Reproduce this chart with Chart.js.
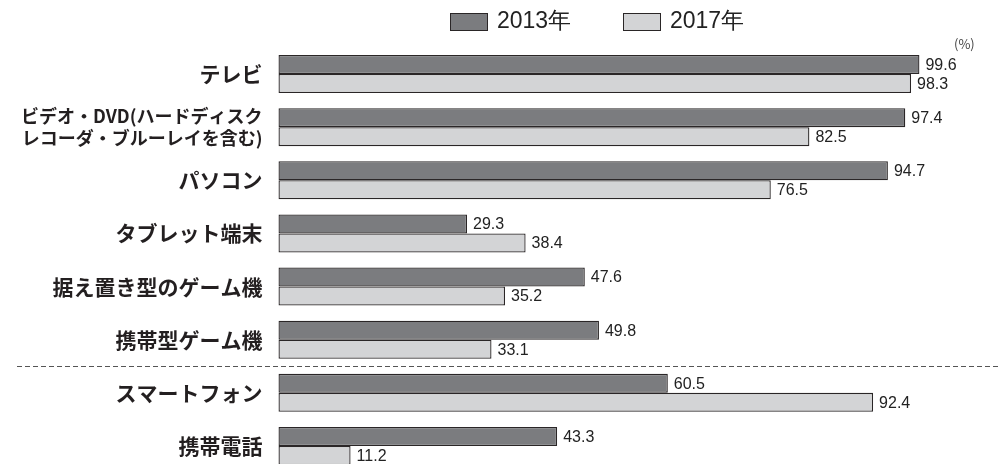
<!DOCTYPE html>
<html>
<head>
<meta charset="utf-8">
<script src="https://cdn.jsdelivr.net/npm/chart.js@4.4.1/dist/chart.umd.min.js"></script>
<style>
  html, body { margin: 0; padding: 0; background: #fff; }
  #wrap { width: 998px; height: 464px; position: relative; }
</style>
</head>
<body>
<div id="wrap"><canvas id="chart"></canvas></div>
<script>
// categories (multi-line label for the video recorder row)
const categories = [
    'テレビ',
    ['ビデオ・DVD(ハードディスク', 'レコーダ・ブルーレイを含む)'],
    'パソコン',
    'タブレット端末',
    '据え置き型のゲーム機',
    '携帯型ゲーム機',
    'スマートフォン',
    '携帯電話'
];
const seriesNames = ['2013年', '2017年'];
const values2013 = [99.6, 97.4, 94.7, 29.3, 47.6, 49.8, 60.5, 43.3];
const values2017 = [98.3, 82.5, 76.5, 38.4, 35.2, 33.1, 92.4, 11.2];
const unitLabel = '(%)';

const darkGray = '#7b7c7f';
const lightGray = '#d3d4d6';
const edge = '#2a2627';
const jpFont = '"Noto Sans CJK JP", "Noto Sans", sans-serif';
const numFont = '"Liberation Sans", Arial, sans-serif';

// value labels at the end of every bar
const valueLabels = {
    id: 'valueLabels',
    afterDatasetsDraw(chart) {
        const ctx = chart.ctx;
        ctx.save();
        ctx.font = '16px ' + numFont;
        ctx.fillStyle = '#222';
        ctx.textBaseline = 'middle';
        ctx.textAlign = 'left';
        chart.data.datasets.forEach((ds, di) => {
            chart.getDatasetMeta(di).data.forEach((bar, i) => {
                ctx.fillText(ds.data[i].toFixed(1), bar.x + 6, bar.y + 1);
            });
        });
        ctx.restore();
    }
};

// legend, unit and dashed separator
const extras = {
    id: 'extras',
    afterDraw(chart) {
        const ctx = chart.ctx;
        ctx.save();
        // legend
        const items = [[450, darkGray], [623, lightGray]];
        ctx.font = '23px ' + numFont;
        ctx.textBaseline = 'middle';
        items.forEach(([x, color], i) => {
            ctx.fillStyle = color;
            ctx.fillRect(x, 13, 38, 18);
            ctx.strokeStyle = edge;
            ctx.lineWidth = 1;
            ctx.strokeRect(x + 0.5, 13.5, 37, 17);
            ctx.fillStyle = '#222';
            ctx.fillText(seriesNames[i], x + 47, 22);
        });
        // unit
        ctx.font = '13px ' + jpFont;
        ctx.fillStyle = '#444';
        ctx.textAlign = 'left';
        ctx.fillText(unitLabel, 954, 44);
        // dashed line between game devices and phones
        const y = chart.scales.y;
        const yy = Math.round((y.getPixelForValue(5) + y.getPixelForValue(6)) / 2) + 0.5;
        ctx.strokeStyle = '#555';
        ctx.lineWidth = 1;
        ctx.setLineDash([5, 3]);
        ctx.beginPath();
        ctx.moveTo(17, yy);
        ctx.lineTo(998, yy);
        ctx.stroke();
        ctx.restore();
    }
};

new Chart(document.getElementById('chart'), {
    type: 'bar',
    data: {
        labels: categories,
        datasets: [
            {
                label: seriesNames[0],
                data: values2013,
                backgroundColor: darkGray,
                borderColor: edge,
                borderWidth: 1.3,
                borderSkipped: false
            },
            {
                label: seriesNames[1],
                data: values2017,
                backgroundColor: lightGray,
                borderColor: edge,
                borderWidth: 1.3,
                borderSkipped: false
            }
        ]
    },
    options: {
        indexAxis: 'y',
        responsive: true,
        maintainAspectRatio: false,
        animation: false,
        clip: false,
        categoryPercentage: 0.715,
        barPercentage: 1.0,
        layout: { padding: { top: 74, bottom: 18, right: 76, left: 0 } },
        plugins: {
            legend: { display: false },
            tooltip: { enabled: false }
        },
        scales: {
            x: {
                display: false,
                min: 0,
                max: 100
            },
            y: {
                offset: false,
                grid: { display: false, drawTicks: false },
                border: { display: false },
                afterFit(scale) {
                    scale.width = 278.5;
                    // don't let tick label heights push the chart area in
                    scale.paddingTop = 0;
                    scale.paddingBottom = 0;
                },
                ticks: {
                    padding: 16,
                    color: '#231f20',
                    font: (c) => c.index === 1
                        ? { family: jpFont, size: 18, weight: 'bold', lineHeight: 1.22 }
                        : { family: jpFont, size: 21, weight: 'bold' }
                }
            }
        }
    },
    plugins: [valueLabels, extras]
});
</script>
</body>
</html>
